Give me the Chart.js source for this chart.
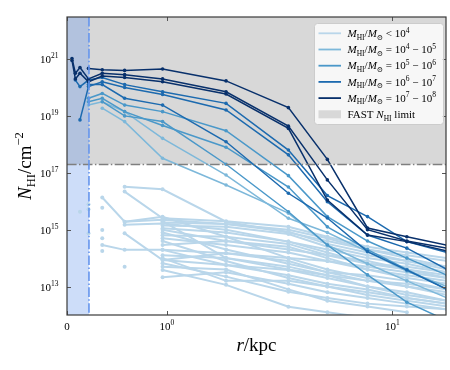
<!DOCTYPE html>
<html>
<head>
<meta charset="utf-8">
<script src="https://cdn.jsdelivr.net/npm/chart.js@4.4.1/dist/chart.umd.min.js"></script>
<style>
  body { margin: 0; background: #fff; }
  #wrap { width: 450px; height: 370px; }
</style>
</head>
<body>
<div id="wrap"><canvas id="chart"></canvas></div>
<script>
// radial bins in kpc
const radii = [0.05, 0.084, 0.13, 0.215, 0.353, 0.577, 0.957, 1.83, 3.46, 5.15, 7.76, 11.6, 17.5];
const _ = null;

// log10(N_HI / cm^-2), one row per galaxy
const profilesE7 = [
    [_, _, _, 20.67, 20.62, 20.6, 20.65, 20.23, 19.29, 17.47, 15.06, 14.75, 14.45],
    [21.02, 20.5, 20.7, 20.3, 20.5, 20.45, 20.3, 19.85, 18.64, 16.75, 15.0, 14.6, 14.35],
    [20.95, 20.3, 20.5, 20.2, 20.4, 20.35, 20.2, 19.77, 18.56, 16.04, 14.81, 14.58, 14.25]
];
const profilesE6 = [
    [_, 20.26, 20.03, 20.26, 20.35, 20.1, 19.85, 19.44, 17.8, 16.2, 15.46, 14.58, 14.2],
    [_, _, 18.86, 20.03, 20.2, 20.0, 19.75, 19.21, 17.63, 15.98, 14.81, 14.35, 13.6],
    [_, _, _, 20.1, 20.1, 19.62, 19.38, 18.09, 16.28, 15.41, 14.23, 13.58, 12.9]
];
const profilesE5 = [
    [_, _, _, 19.62, 19.79, 19.38, 19.15, 18.48, 16.9, 15.46, 14.6, 14.0, 13.4],
    [_, _, _, 19.5, 19.62, 19.15, 18.66, 17.9, 16.5, 15.1, 14.3, 13.6, 12.9],
    [_, _, _, _, 19.5, 19.0, 18.8, 17.3, 15.63, 14.46, 13.41, 12.45, 11.8]
];
const profilesE4 = [
    [_, _, _, 19.38, 19.5, 19.15, 18.21, 16.92, 15.4, 14.9, 14.23, 13.54, 13.0],
    [_, _, _, _, 19.27, 18.8, 17.51, 16.57, 15.58, 14.46, 13.8, 13.2, 12.6]
];
const profilesLow = [
    [_, _, _, _, _, 16.51, 16.42, 15.28, 14.9, 14.6, 14.3, 14.0, 13.7],
    [_, _, _, _, _, 16.34, 15.4, 15.3, 15.1, 14.75, 14.4, 14.2, 14.0],
    [_, _, _, _, 16.13, 15.28, 15.35, 15.2, 14.93, 14.5, 14.2, 13.9, 13.6],
    [_, _, _, _, _, 15.17, 15.22, 15.0, 14.58, 14.2, 13.8, 13.6, 13.3],
    [_, _, _, _, _, 15.28, 15.45, 14.75, 14.0, 13.6, 13.3, 13.0, 12.7],
    [_, _, _, _, _, 14.87, 13.93, 13.76, 13.58, 13.3, 13.0, 12.8, 12.5],
    [_, _, _, _, 14.46, 14.29, 14.29, 14.17, 14.0, 13.9, 13.6, 13.4, 13.2],
    [_, _, _, _, _, _, 15.05, 14.9, 14.58, 14.3, 14.0, 13.8, 13.5],
    [_, _, _, _, _, _, 14.7, 14.46, 14.2, 13.9, 13.7, 13.5, 13.3],
    [_, _, _, _, _, _, 14.46, 14.6, 14.3, 14.1, 13.9, 13.6, 13.4],
    [_, _, _, _, _, _, 14.29, 13.76, 13.4, 13.1, 12.9, 12.6, 12.4],
    [_, _, _, _, _, _, 13.93, 14.17, 13.9, 13.5, 13.2, 13.0, 12.8],
    [_, _, _, _, _, _, 13.82, 13.35, 12.82, 12.6, 12.4, 12.3, 12.2],
    [_, _, _, _, _, _, 13.58, 13.06, 12.29, 12.1, 11.9, _, _],
    [_, _, _, _, _, _, 13.33, 13.5, 13.1, 12.8, 12.6, 12.4, 12.2],
    [_, _, _, _, _, _, 15.3, 14.0, 13.6, 13.4, 13.0, 12.7, 12.5],
    [_, _, _, _, _, _, 15.15, 15.1, 14.85, 14.4, 14.1, 13.9, 13.7],
    [_, _, _, _, _, _, 14.9, 14.3, 13.8, 13.5, 13.4, 13.2, 12.9],
    [_, _, _, _, _, _, 14.6, 13.9, 13.3, 13.0, 12.7, 12.5, 12.3],
    [_, _, _, _, _, _, 14.1, 14.0, 13.7, 13.4, 13.2, 13.1, 12.9],
    [_, _, _, _, _, _, 13.7, 13.6, 12.9, 12.5, 12.3, 12.1, _],
    [_, _, _, _, _, _, 14.0, 13.2, 13.2, 13.0, 12.8, 12.6, 12.4],
    [_, _, _, _, _, _, 15.0, 14.6, 14.4, 14.0, 13.6, 13.3, 13.1],
    [_, _, _, _, _, _, 15.25, 15.2, 15.0, 14.7, 14.3, 14.1, 13.9],
    [_, _, _, _, _, _, 14.8, 14.75, 14.5, 14.1, 13.8, 13.7, 13.5],
    // lone points near the centre
    [_, _, 15.63, _, _, _, _, _, _, _, _, _, _],
    [_, _, _, 15.89, _, _, _, _, _, _, _, _, _],
    [_, _, _, 15.72, _, _, _, _, _, _, _, _, _],
    [_, _, _, 14.87, _, _, _, _, _, _, _, _, _],
    [_, _, _, _, 15.77, _, _, _, _, _, _, _, _],
    [_, _, _, _, 14.99, _, _, _, _, _, _, _, _],
    [_, _, _, _, 14.7, _, _, _, _, _, _, _, _],
    [_, _, _, _, 14.25, _, _, _, _, _, _, _, _],
    [_, _, _, _, _, 13.7, _, _, _, _, _, _, _]
];

const groupLabels = ['< 10^4', '= 10^4 \u2212 10^5', '= 10^5 \u2212 10^6', '= 10^6 \u2212 10^7', '= 10^7 \u2212 10^8'];
const groupColors = ['#b9d6ea', '#7db8da', '#4a98c9', '#1c6aaf', '#08306b'];
const groupProfiles = [profilesLow, profilesE4, profilesE5, profilesE6, profilesE7];

const xTicks = [0, 1, 10];
const xTickLabels = [['0', ''], ['10', '0'], ['10', '1']];
const yTicks = [1e13, 1e15, 1e17, 1e19, 1e21];
const yTickLabels = [['10', '13'], ['10', '15'], ['10', '17'], ['10', '19'], ['10', '21']];

const fastLimit = 2e17;     // FAST N_HI limit
const innerRadius = 0.22;   // shaded inner region, kpc

const LIN_THRESH = 1;
const LIN_SCALE = 0.443;
const SERIF = '"Liberation Serif", "DejaVu Serif", serif';

// symlog x axis: linear below 1 kpc, log above
class SymLogScale extends Chart.LinearScale {
    static id = 'symlog';
    static defaults = Chart.LinearScale.defaults;
    buildTicks() {
        return xTicks.map(v => ({ value: v }));
    }
    _u(v) {
        return v <= LIN_THRESH ? v / LIN_THRESH * LIN_SCALE : LIN_SCALE + Math.log10(v / LIN_THRESH);
    }
    getPixelForValue(v) {
        const a = this._u(this.min), b = this._u(this.max);
        return this.getPixelForDecimal((this._u(v) - a) / (b - a));
    }
    getValueForPixel(p) {
        const a = this._u(this.min), b = this._u(this.max);
        const u = a + this.getDecimalForPixel(p) * (b - a);
        return u <= LIN_SCALE ? u / LIN_SCALE * LIN_THRESH : LIN_THRESH * Math.pow(10, u - LIN_SCALE);
    }
}
Chart.register(SymLogScale);

// build datasets, darkest group first so it is drawn on top
const datasets = [];
for (let g = groupProfiles.length - 1; g >= 0; g--) {
    groupProfiles[g].forEach(row => {
        datasets.push({
            data: radii.map((r, i) => ({ x: r, y: row[i] === null ? null : Math.pow(10, row[i]) })),
            borderColor: groupColors[g],
            backgroundColor: groupColors[g],
            borderWidth: g === 0 ? 2 : 1.5,
            pointRadius: g === 0 ? 2 : 1.8,
            pointBorderWidth: 0,
            spanGaps: false
        });
    });
}

// draw text made of pieces: [text, size, italic, dy]
function richWidth(ctx, segs) {
    let w = 0;
    segs.forEach(s => {
        ctx.font = (s[2] ? 'italic ' : '') + s[1] + 'px ' + SERIF;
        w += ctx.measureText(s[0]).width;
    });
    return w;
}
function drawRich(ctx, segs, x, y, align) {
    const w = richWidth(ctx, segs);
    let cx = align === 'center' ? x - w / 2 : align === 'right' ? x - w : x;
    ctx.textBaseline = 'alphabetic';
    ctx.textAlign = 'left';
    segs.forEach(s => {
        ctx.font = (s[2] ? 'italic ' : '') + s[1] + 'px ' + SERIF;
        ctx.fillText(s[0], cx, y + (s[3] || 0));
        cx += ctx.measureText(s[0]).width;
    });
}
function massLabel(text) {
    // "MHI/M⊙ " then the range, ^ marks an exponent
    const segs = [['M', 11, true], ['HI', 7.5, false, 2.5], ['/', 11, false], ['M', 11, true], ['\u2299', 7.5, false, 2.5]];
    text.split(/(\^\d+)/).forEach(p => {
        if (!p) return;
        if (p[0] === '^') segs.push([p.slice(1), 7.5, false, -4.5]);
        else segs.push([' ' + p.trim() + (p.endsWith(' ') ? ' ' : ''), 11, false]);
    });
    return segs;
}

const decor = {
    id: 'decor',
    beforeDatasetsDraw(chart) {
        const { ctx, chartArea: a, scales: { x, y } } = chart;
        ctx.save();
        ctx.fillStyle = '#d8d8d8';
        const yf = y.getPixelForValue(fastLimit);
        ctx.fillRect(a.left, a.top, a.right - a.left, yf - a.top);
        ctx.fillStyle = 'rgba(100, 149, 237, 0.32)';
        const xr = x.getPixelForValue(innerRadius);
        ctx.fillRect(a.left, a.top, xr - a.left, a.bottom - a.top);
        ctx.restore();
    },
    afterDatasetsDraw(chart) {
        const { ctx, chartArea: a, scales: { x, y } } = chart;
        ctx.save();
        ctx.lineWidth = 1.6;
        ctx.setLineDash([9.6, 2.4, 1.5, 2.4]);
        ctx.strokeStyle = '#7f7f7f';
        const yf = Math.round(y.getPixelForValue(fastLimit)) + 0.5;
        ctx.beginPath(); ctx.moveTo(a.left, yf); ctx.lineTo(a.right, yf); ctx.stroke();
        ctx.strokeStyle = '#6495ed';
        const xr = x.getPixelForValue(innerRadius);
        ctx.beginPath(); ctx.moveTo(xr, a.top); ctx.lineTo(xr, a.bottom); ctx.stroke();
        ctx.setLineDash([]);

        // inward ticks on all sides
        ctx.strokeStyle = '#555';
        ctx.lineWidth = 1;
        ctx.beginPath();
        xTicks.forEach(v => {
            const px = Math.round(x.getPixelForValue(v)) + 0.5;
            ctx.moveTo(px, a.bottom); ctx.lineTo(px, a.bottom - 4);
            ctx.moveTo(px, a.top); ctx.lineTo(px, a.top + 4);
        });
        yTicks.forEach(v => {
            const py = Math.round(y.getPixelForValue(v)) + 0.5;
            ctx.moveTo(a.left, py); ctx.lineTo(a.left + 4, py);
            ctx.moveTo(a.right, py); ctx.lineTo(a.right - 4, py);
        });
        ctx.stroke();

        // frame
        ctx.strokeStyle = '#3a3a3a';
        ctx.lineWidth = 1.2;
        ctx.strokeRect(a.left, a.top, a.right - a.left, a.bottom - a.top);

        // legend
        const lx = 314, ly = 23, lw = 129, lh = 101;
        ctx.fillStyle = 'rgba(255,255,255,0.8)';
        ctx.strokeStyle = '#cccccc';
        ctx.lineWidth = 1;
        ctx.beginPath();
        ctx.roundRect(lx + 0.5, ly + 0.5, lw, lh, 3);
        ctx.fill(); ctx.stroke();
        groupLabels.forEach((lab, i) => {
            const ry = 33.3 + i * 16.2;
            ctx.strokeStyle = groupColors[i];
            ctx.lineWidth = 1.8;
            ctx.beginPath(); ctx.moveTo(318.5, ry); ctx.lineTo(341, ry); ctx.stroke();
            ctx.fillStyle = '#000';
            drawRich(ctx, massLabel(lab), 347.5, ry + 3.7, 'left');
        });
        const ry = 33.3 + 5 * 16.2;
        ctx.fillStyle = '#d8d8d8';
        ctx.fillRect(318.5, ry - 4, 22.5, 8);
        ctx.fillStyle = '#000';
        drawRich(ctx, [['FAST ', 11, false], ['N', 11, true], ['HI', 7.5, false, 2.5], [' limit', 11, false]], 347.5, ry + 3.7, 'left');
        ctx.restore();
    },
    afterDraw(chart) {
        const { ctx, chartArea: a, scales: { x, y } } = chart;
        ctx.save();
        ctx.fillStyle = '#000';
        xTicks.forEach((v, i) => {
            const lab = xTickLabels[i];
            drawRich(ctx, [[lab[0], 11, false], [lab[1], 7.5, false, -5]], x.getPixelForValue(v), a.bottom + 14.5, 'center');
        });
        yTicks.forEach((v, i) => {
            const lab = yTickLabels[i];
            drawRich(ctx, [[lab[0], 11, false], [lab[1], 7.5, false, -5]], 58.5, y.getPixelForValue(v) + 4.3, 'right');
        });
        // axis titles
        drawRich(ctx, [['r', 19, true], ['/kpc', 19, false]], (a.left + a.right) / 2, 351, 'center');
        ctx.translate(31, (a.top + a.bottom) / 2);
        ctx.rotate(-Math.PI / 2);
        drawRich(ctx, [['N', 19, true], ['HI', 12.5, false, 4], ['/cm', 19, false], ['\u22122', 12.5, false, -8]], 0, 0, 'center');
        ctx.restore();
    }
};

new Chart(document.getElementById('chart'), {
    type: 'line',
    data: { datasets: datasets },
    options: {
        responsive: true,
        maintainAspectRatio: false,
        animation: false,
        events: [],
        layout: { padding: { left: 0, right: 2, top: 17, bottom: 0 } },
        plugins: { legend: { display: false }, tooltip: { enabled: false } },
        scales: {
            x: {
                type: 'symlog',
                min: 0,
                max: 17.3,
                grid: { display: false, drawTicks: false },
                border: { display: false },
                ticks: { display: false },
                afterFit: s => { s.height = 55; }
            },
            y: {
                type: 'logarithmic',
                min: 1e12,
                max: 3e22,
                grid: { display: false, drawTicks: false },
                border: { display: false },
                ticks: { display: false },
                afterBuildTicks: s => { s.ticks = yTicks.map(v => ({ value: v })); },
                afterFit: s => { s.width = 67; }
            }
        }
    },
    plugins: [decor]
});
</script>
</body>
</html>
